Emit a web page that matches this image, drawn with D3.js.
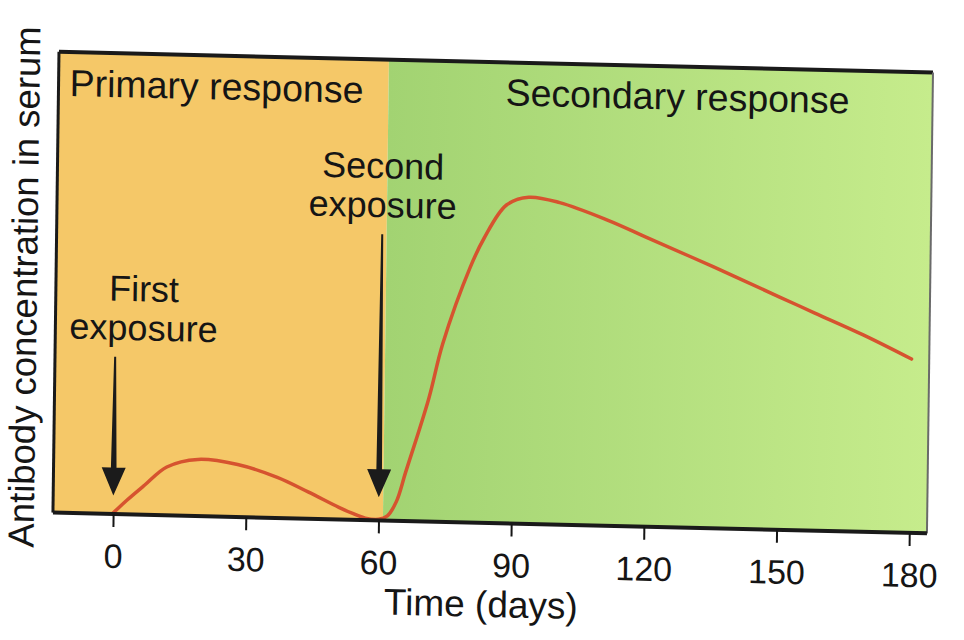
<!DOCTYPE html>
<html>
<head>
<meta charset="utf-8">
<script src="https://cdn.jsdelivr.net/npm/d3@7"></script>
<style>
  html, body { margin: 0; padding: 0; background: #fff; }
  svg { display: block; }
</style>
</head>
<body>
<svg width="964" height="640"></svg>
<script>
// antibody curve (days, % of plot height)
const days = [0, 3, 7, 12, 19, 28, 37, 44, 51, 54, 57, 60, 62, 64, 66, 71, 74, 80, 83, 88, 93, 100, 111, 120, 135, 150, 158, 169, 180];
const antibody = [0, 2.8, 6.2, 10.3, 12.1, 11.2, 8.6, 5.6, 2.4, 1.2, 0.2, 0, 0.8, 4, 10.4, 26.5, 38.5, 55.3, 61.6, 69, 70.8, 69.8, 66.2, 62.6, 56.6, 50.4, 47.1, 42.6, 37.6];

const xTicks = [0, 30, 60, 90, 120, 150, 180];
const phaseNames = ['Primary response', 'Secondary response'];
const phaseBounds = [-13.6, 61, 184];
const exposureDays = [0, 60];
const exposureLabels = [['First', 'exposure'], ['Second', 'exposure']];
const arrowTop = [34, 62];
const arrowTip = [3.8, 4.8];

const font = "'Liberation Sans', Arial, Helvetica, sans-serif";

const xScale = d3.scaleLinear()
   .domain([phaseBounds[0], phaseBounds[2]])
   .range([56, 930]);
const yScale = d3.scaleLinear()
   .domain([0, 100])
   .range([522, 62]);

const plotTop = 62, plotBottom = 523;

const svg = d3.select('svg');
const defs = svg.append('defs');
const grad = defs.append('linearGradient')
   .attr('id', 'greenFade')
   .attr('x1', '0%').attr('x2', '100%');
grad.append('stop').attr('offset', '0%').attr('stop-color', '#a2d372');
grad.append('stop').attr('offset', '100%').attr('stop-color', '#c6ec8c');

// the photographed page is slightly tilted
const g = svg.append('g')
   .attr('transform', 'translate(490,290) skewY(1.36) skewX(-0.75) translate(-490,-290)');

// background panels
const phases = phaseNames.map((name, i) => ({name: name, from: phaseBounds[i], to: phaseBounds[i + 1]}));
g.selectAll('.phase')
   .data(phases)
   .enter()
   .append('rect')
   .classed('phase', true)
   .attr('x', d => xScale(d.from))
   .attr('y', plotTop)
   .attr('width', d => xScale(d.to) - xScale(d.from))
   .attr('height', plotBottom - plotTop)
   .attr('fill', (d, i) => i === 0 ? '#f5c868' : 'url(#greenFade)');

g.selectAll('.phase-label')
   .data(phases)
   .enter()
   .append('text')
   .classed('phase-label', true)
   .attr('x', (d, i) => i === 0 ? xScale(d.from) + 11 : xScale(d.from) + 117)
   .attr('y', (d, i) => i === 0 ? 106 : 105)
   .attr('font-family', font)
   .attr('font-size', 37.5)
   .attr('fill', '#151515')
   .text(d => d.name);

// antibody curve
const line = d3.line()
   .x((d, i) => xScale(days[i]))
   .y(d => yScale(d))
   .curve(d3.curveCatmullRom.alpha(0.5));

g.append('path')
   .datum(antibody)
   .attr('d', line)
   .attr('fill', 'none')
   .attr('stroke', '#d6532f')
   .attr('stroke-width', 3.5)
   .attr('stroke-linecap', 'round');

// exposure arrows
function arrowPath(cx, y0, y1) {
   const hw = 12, hh = 28;
   return 'M' + (cx - 1) + ',' + y0 + ' L' + (cx + 1) + ',' + y0 +
      ' L' + (cx + 2.8) + ',' + (y1 - hh) + ' L' + (cx + hw) + ',' + (y1 - hh) +
      ' L' + cx + ',' + y1 + ' L' + (cx - hw) + ',' + (y1 - hh) +
      ' L' + (cx - 2.8) + ',' + (y1 - hh) + ' Z';
}

g.selectAll('.arrow')
   .data(exposureDays)
   .enter()
   .append('path')
   .classed('arrow', true)
   .attr('d', (d, i) => arrowPath(xScale(d), yScale(arrowTop[i]), yScale(arrowTip[i])))
   .attr('fill', '#1b1b1b');

// labels above the arrows (first one sits right of its arrow)
const labelShift = [28, 0];
g.selectAll('.exposure-label')
   .data(exposureDays)
   .enter()
   .append('text')
   .classed('exposure-label', true)
   .attr('text-anchor', 'middle')
   .attr('font-family', font)
   .attr('font-size', 36)
   .attr('fill', '#151515')
   .each(function(d, i) {
      const cx = xScale(d) + labelShift[i];
      const y0 = yScale(arrowTop[i]) - 56;
      d3.select(this).selectAll('tspan')
         .data(exposureLabels[i])
         .enter()
         .append('tspan')
         .attr('x', cx)
         .attr('y', (t, j) => y0 + j * 39)
         .text(t => t);
   });

// frame
g.append('line')
   .attr('x1', xScale(phaseBounds[0])).attr('x2', xScale(phaseBounds[2]))
   .attr('y1', plotTop).attr('y2', plotTop)
   .attr('stroke', '#1a1a1a').attr('stroke-width', 4);
g.append('line')
   .attr('x1', xScale(phaseBounds[0])).attr('x2', xScale(phaseBounds[0]))
   .attr('y1', plotTop).attr('y2', plotBottom)
   .attr('stroke', '#1a1a1a').attr('stroke-width', 3);
g.append('line')
   .attr('x1', xScale(phaseBounds[2])).attr('x2', xScale(phaseBounds[2]))
   .attr('y1', plotTop).attr('y2', plotBottom)
   .attr('stroke', '#6a6a6a').attr('stroke-width', 2);
g.append('line')
   .attr('x1', xScale(phaseBounds[0])).attr('x2', xScale(phaseBounds[2]))
   .attr('y1', plotBottom).attr('y2', plotBottom)
   .attr('stroke', '#1a1a1a').attr('stroke-width', 4);

// x axis
g.append('g')
   .attr('transform', 'translate(0,' + plotBottom + ')')
   .call(d3.axisBottom(xScale).tickValues(xTicks).tickSize(13).tickSizeOuter(0))
   .attr('font-family', font)
   .attr('font-size', 34)
   .attr('color', '#151515')
   .call(a => a.select('.domain').remove())
   .call(a => a.selectAll('line').attr('stroke-width', 2))
   .call(a => a.selectAll('text').attr('y', 54).attr('dy', null));

g.append('text')
   .attr('x', 485)
   .attr('y', 617)
   .attr('text-anchor', 'middle')
   .attr('font-family', font)
   .attr('font-size', 37)
   .attr('fill', '#151515')
   .text('Time (days)');

g.append('text')
   .attr('transform', 'translate(37,298) rotate(-90)')
   .attr('text-anchor', 'middle')
   .attr('font-family', font)
   .attr('font-size', 36.5)
   .attr('fill', '#151515')
   .text('Antibody concentration in serum');
</script>
</body>
</html>
